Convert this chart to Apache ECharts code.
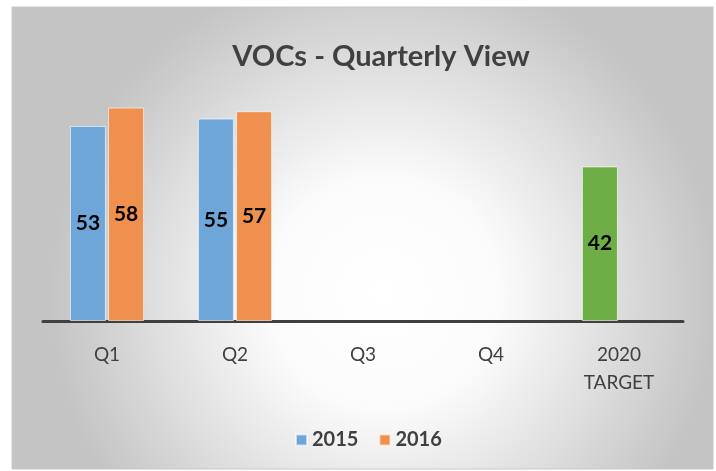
<!DOCTYPE html>
<html>
<head>
<meta charset="utf-8">
<script src="https://cdn.jsdelivr.net/npm/echarts@6/dist/echarts.min.js"></script>
<style>
	html, body { margin: 0; padding: 0; background: #fff; }
	#chart { width: 716px; height: 471px; }
</style>
</head>
<body>
<div id="chart"></div>
<script>
// categories along the x axis
const categories = ['Q1', 'Q2', 'Q3', 'Q4', '2020\nTARGET']
// values per year ('-' = no bar)
const values2015 = [53, 55, '-', '-', 42]
const values2016 = [58, 57, '-', '-', '-']

const chart = echarts.init(document.getElementById('chart'))
const font = 'Lato, "Open Sans", sans-serif'

const option = {
	animation: false,
	graphic: [
		{
			type: 'rect',
			z: -10,
			shape: { x: 12, y: 7, width: 701, height: 462 },
			style: {
				fill: {
					type: 'radial', x: 0.53, y: 0.62, r: 0.72,
					colorStops: [
						{ offset: 0, color: '#ffffff' },
						{ offset: 0.35, color: '#fbfbfb' },
						{ offset: 1, color: '#c4c4c4' }
					]
				},
				stroke: '#c8c8c8',
				lineWidth: 1
			}
		}
	],
	title: {
		text: 'VOCs - Quarterly View',
		left: 376,
		textAlign: 'center',
		top: 37,
		textStyle: { fontFamily: font, fontSize: 29, fontWeight: 'bold', color: '#404040' }
	},
	legend: {
		data: ['2015', '2016'],
		left: 290,
		top: 425,
		itemWidth: 11,
		itemHeight: 11,
		itemGap: 20,
		icon: 'rect',
		textStyle: { fontFamily: font, fontSize: 20, fontWeight: 'bold', color: '#404040' }
	},
	grid: { left: 43, right: 33, top: 63.4, bottom: 150 },
	xAxis: {
		type: 'category',
		data: categories,
		axisLine: { lineStyle: { color: '#404040', width: 3 } },
		axisTick: { show: false },
		axisLabel: {
			fontFamily: font, fontSize: 19, color: '#404040',
			margin: 20, lineHeight: 28
		}
	},
	yAxis: {
		type: 'value',
		min: 0,
		max: 70,
		show: false,
		splitLine: { show: false }
	},
	series: [
		{
			name: '2015',
			type: 'bar',
			barWidth: 36,
			barGap: '6%',
			itemStyle: { color: '#6fa6d9', borderColor: 'rgba(255,255,255,0.6)', borderWidth: 1 },
			label: {
				show: true, position: 'inside',
				fontFamily: font, fontSize: 21, fontWeight: 'bold', color: '#000'
			},
			data: values2015.map((v, i) => i === 4 ? { value: v, itemStyle: { color: '#6eae46' } } : v)
		},
		{
			name: '2016',
			type: 'bar',
			barWidth: 36,
			itemStyle: { color: '#f0904f', borderColor: 'rgba(255,255,255,0.6)', borderWidth: 1 },
			label: {
				show: true, position: 'inside',
				fontFamily: font, fontSize: 21, fontWeight: 'bold', color: '#000'
			},
			data: values2016
		}
	]
}
chart.setOption(option)
</script>
</body>
</html>
